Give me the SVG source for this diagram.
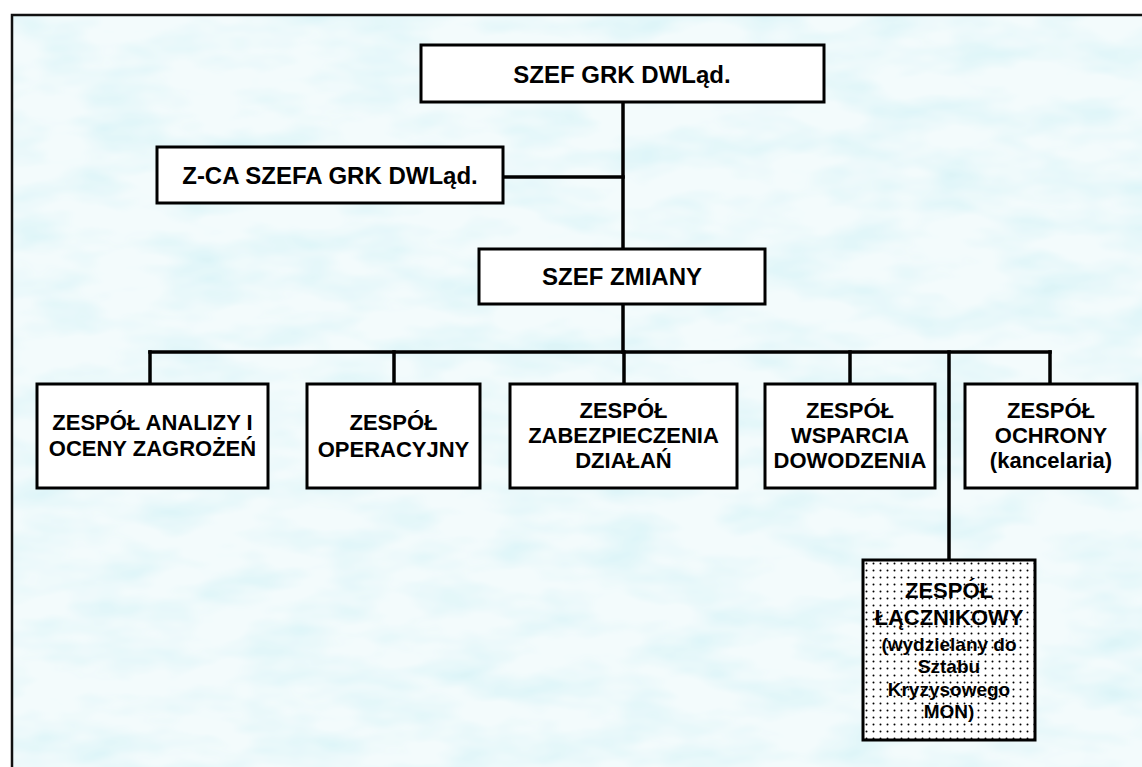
<svg xmlns="http://www.w3.org/2000/svg" width="1142" height="767" viewBox="0 0 1142 767">
  <defs>
    <style>
      .box { fill: #ffffff; stroke: #000000; stroke-width: 3; }
      .wire { fill: none; stroke: #000000; stroke-width: 3.5; stroke-linecap: square; }
      .big { font-family: "Liberation Sans", Arial, sans-serif; font-weight: bold; font-size: 24px; fill: #000000; text-anchor: middle; }
      .lbl { font-family: "Liberation Sans", Arial, sans-serif; font-weight: bold; font-size: 22px; fill: #000000; text-anchor: middle; }
      .sml { font-family: "Liberation Sans", Arial, sans-serif; font-weight: bold; font-size: 19px; fill: #000000; text-anchor: middle; }
    </style>
    <!-- dotted fill for the liaison team -->
    <pattern id="dots" x="863" y="560" width="7" height="7" patternUnits="userSpaceOnUse">
      <rect x="0" y="0" width="7" height="7" fill="#ffffff"/>
      <circle cx="3.5" cy="3.5" r="1" fill="#000000"/>
    </pattern>
    <!-- mottled paper tint -->
    <filter id="paper" x="0" y="0" width="100%" height="100%">
      <feTurbulence type="fractalNoise" baseFrequency="0.012 0.03" numOctaves="3" seed="7" result="n"/>
      <feColorMatrix in="n" type="matrix" values="0 0 0 0 0.55  0 0 0 0 0.85  0 0 0 0 0.9  0 0 0 -2.2 1.35"/>
    </filter>
  </defs>

  <!-- page -->
  <rect x="0" y="0" width="1142" height="767" fill="#ffffff"/>
  <rect x="12" y="15" width="1140" height="760" fill="#f3fbfc"/>
  <rect x="12" y="15" width="1140" height="760" filter="url(#paper)" opacity="0.45"/>
  <rect x="12" y="15" width="1140" height="760" fill="none" stroke="#111111" stroke-width="2.5"/>

  <!-- connectors -->
  <g id="connectors">
    <path class="wire" d="M623,102 V249"/>
    <path class="wire" d="M503,177 H623"/>
    <path class="wire" d="M623,304 V352"/>
    <path class="wire" d="M150,352 H1050"/>
    <path class="wire" d="M150,352 V384"/>
    <path class="wire" d="M394,352 V384"/>
    <path class="wire" d="M624,352 V384"/>
    <path class="wire" d="M850,352 V384"/>
    <path class="wire" d="M1050,352 V384"/>
    <path class="wire" d="M949,352 V560"/>
  </g>

  <g id="szef-grk">
    <rect class="box" x="421" y="45" width="403" height="57"/>
    <text class="big" x="622" y="83">SZEF GRK DWLąd.</text>
  </g>

  <g id="zca-szefa">
    <rect class="box" x="157" y="147" width="346" height="56"/>
    <text class="big" x="330" y="184">Z-CA SZEFA GRK DWLąd.</text>
  </g>

  <g id="szef-zmiany">
    <rect class="box" x="479" y="249" width="286" height="55"/>
    <text class="big" x="622" y="285">SZEF ZMIANY</text>
  </g>

  <g id="zespol-analizy">
    <rect class="box" x="37" y="384" width="231" height="104"/>
    <text class="lbl" x="152.5" y="430">ZESPÓŁ ANALIZY I</text>
    <text class="lbl" x="152.5" y="456">OCENY ZAGROŻEŃ</text>
  </g>

  <g id="zespol-operacyjny">
    <rect class="box" x="307" y="384" width="173" height="104"/>
    <text class="lbl" x="393.5" y="430">ZESPÓŁ</text>
    <text class="lbl" x="393.5" y="457">OPERACYJNY</text>
  </g>

  <g id="zespol-zabezpieczenia">
    <rect class="box" x="510" y="384" width="227" height="104"/>
    <text class="lbl" x="623.5" y="418">ZESPÓŁ</text>
    <text class="lbl" x="623.5" y="443">ZABEZPIECZENIA</text>
    <text class="lbl" x="623.5" y="468">DZIAŁAŃ</text>
  </g>

  <g id="zespol-wsparcia">
    <rect class="box" x="765" y="384" width="170" height="104"/>
    <text class="lbl" x="850" y="418">ZESPÓŁ</text>
    <text class="lbl" x="850" y="443">WSPARCIA</text>
    <text class="lbl" x="850" y="468">DOWODZENIA</text>
  </g>

  <g id="zespol-ochrony">
    <rect class="box" x="965" y="384" width="172" height="104"/>
    <text class="lbl" x="1051" y="418">ZESPÓŁ</text>
    <text class="lbl" x="1051" y="443">OCHRONY</text>
    <text class="lbl" x="1051" y="468">(kancelaria)</text>
  </g>

  <g id="zespol-lacznikowy">
    <rect x="863" y="560" width="172" height="180" fill="url(#dots)" stroke="#000000" stroke-width="3"/>
    <text class="lbl" x="949" y="598">ZESPÓŁ</text>
    <text class="lbl" x="949" y="625">ŁĄCZNIKOWY</text>
    <text class="sml" x="949" y="651">(wydzielany do</text>
    <text class="sml" x="949" y="673">Sztabu</text>
    <text class="sml" x="949" y="696">Kryzysowego</text>
    <text class="sml" x="949" y="718">MON)</text>
  </g>
</svg>
